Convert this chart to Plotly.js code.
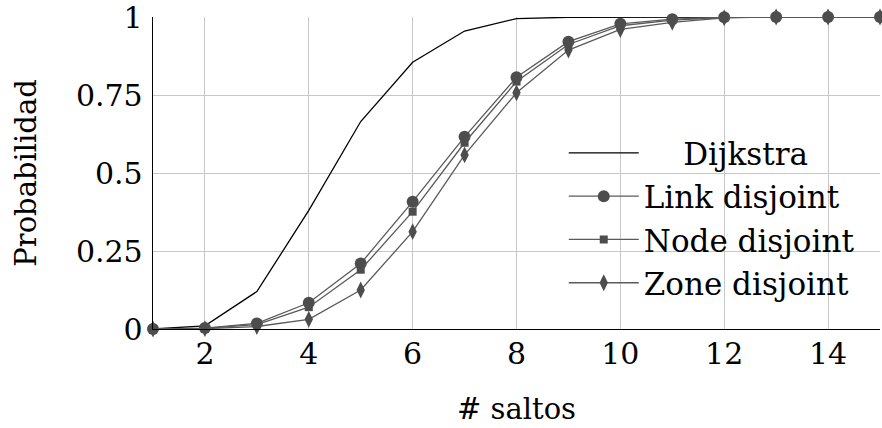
<!DOCTYPE html>
<html>
<head>
<meta charset="utf-8">
<script src="https://cdn.plot.ly/plotly-3.0.1.min.js"></script>
<style>html,body{margin:0;padding:0;background:#fff;}#chart{width:882px;height:428px;}</style>
</head>
<body>
<div id="chart"></div>
<script>
const hops = [1, 2, 3, 4, 5, 6, 7, 8, 9, 10, 11, 12, 13, 14, 15];
const dijkstra = [0, 0.01, 0.12, 0.38, 0.665, 0.855, 0.955, 0.995, 0.999, 1, 1, 1, 1, 1, 1];
const linkDisjoint = [0, 0.003, 0.018, 0.084, 0.21, 0.408, 0.616, 0.807, 0.921, 0.978, 0.993, 0.999, 1, 1, 1];
const nodeDisjoint = [0, 0.002, 0.014, 0.07, 0.19, 0.376, 0.597, 0.793, 0.912, 0.972, 0.99, 0.998, 1, 1, 1];
const zoneDisjoint = [0, 0.001, 0.008, 0.031, 0.125, 0.312, 0.558, 0.757, 0.894, 0.96, 0.983, 0.997, 1, 1, 1];
const seriesNames = ["Dijkstra", "Link disjoint", "Node disjoint", "Zone disjoint"];
const xTicks = [2, 4, 6, 8, 10, 12, 14];
const yTickVals = [0, 0.25, 0.5, 0.75, 1];
const yTickText = ["0", "0.25", "0.5", "0.75", "1"];

const markCol = "#4d4d4d";
const lineCol = "#5a5a5a";
const pad = "\u00A0\u00A0\u00A0\u00A0";

const traces = [
  {x: hops, y: dijkstra, name: pad + seriesNames[0], mode: "lines",
   line: {color: "#000", width: 1.3}},
  {x: hops, y: linkDisjoint, name: seriesNames[1], mode: "lines+markers",
   line: {color: lineCol, width: 1.3}, marker: {symbol: "circle", size: 12, color: markCol}},
  {x: hops, y: nodeDisjoint, name: seriesNames[2], mode: "lines+markers",
   line: {color: lineCol, width: 1.3}, marker: {symbol: "square", size: 8, color: markCol}},
  {x: hops, y: zoneDisjoint, name: seriesNames[3], mode: "lines+markers",
   line: {color: lineCol, width: 1.3}, marker: {symbol: "diamond-tall", size: 12, color: markCol}}
];
traces.forEach(t => t.cliponaxis = false);

const font = {family: "DejaVu Serif", size: 31, color: "#000"};
const tickFont = {family: "DejaVu Serif", size: 30, color: "#000"};
const titleFont = {family: "DejaVu Serif", size: 29, color: "#000"};

const layout = {
  width: 882, height: 428,
  margin: {l: 153, r: 2, t: 17, b: 99},
  paper_bgcolor: "#fff", plot_bgcolor: "#fff",
  font: font,
  showlegend: true,
  legend: {x: 0.565, y: 0.65, xanchor: "left", yanchor: "top", itemwidth: 70,
           bgcolor: "rgba(0,0,0,0)", borderwidth: 0, font: font,
           tracegroupgap: 0, tracegroupgap: 0},
  xaxis: {range: [1, 15], tickvals: xTicks, showgrid: true, gridcolor: "#c8c8c8", gridwidth: 1,
          zeroline: false, showline: true, linecolor: "#000", linewidth: 1.3, ticks: "",
          ticklabelstandoff: -2, ticklabeloverflow: "allow", tickfont: tickFont,
          title: {text: "# saltos", font: titleFont, standoff: 28}},
  yaxis: {range: [0, 1], tickvals: yTickVals, ticktext: yTickText, showgrid: true,
          gridcolor: "#c8c8c8", gridwidth: 1, zeroline: false, showline: true,
          linecolor: "#000", linewidth: 1.3, ticks: "", ticklabelstandoff: 3,
          ticklabeloverflow: "allow", tickfont: tickFont,
          title: {text: "Probabilidad", font: titleFont, standoff: 30}}
};

Plotly.newPlot("chart", traces, layout, {displayModeBar: false, staticPlot: true});
</script>
</body>
</html>
